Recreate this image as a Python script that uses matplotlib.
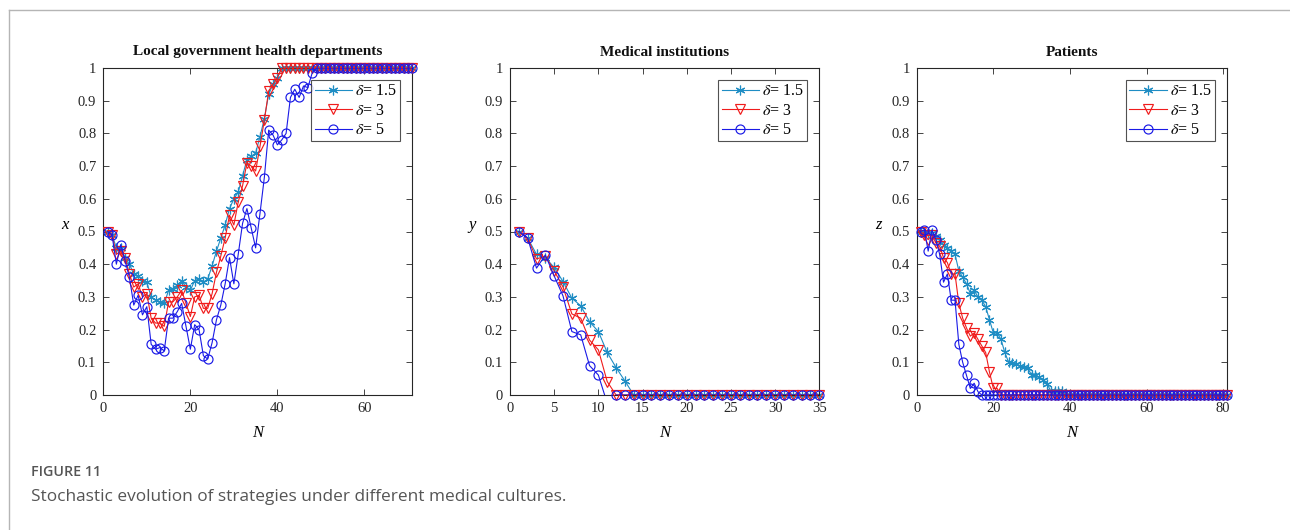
import numpy as np
import matplotlib
matplotlib.use("Agg")
import matplotlib.pyplot as plt
from matplotlib.lines import Line2D

plt.rcParams['font.family'] = ['Liberation Serif', 'DejaVu Serif']
plt.rcParams['mathtext.fontset'] = 'stix'

# ---------------- data ----------------
labels = [r'$\delta$= 1.5', r'$\delta$= 3', r'$\delta$= 5']
titles = ['Local government health departments', 'Medical institutions', 'Patients']
ylabels = ['x', 'y', 'z']
xlims = [71, 35, 81]
xticks_list = [[0, 20, 40, 60], [0, 5, 10, 15, 20, 25, 30, 35], [0, 20, 40, 60, 80]]

# Local government health departments (N = 1..71)
gov_d15 = [0.50, 0.49, 0.45, 0.45, 0.42, 0.40, 0.37, 0.365, 0.35, 0.345,
           0.30, 0.29, 0.285, 0.28, 0.32, 0.325, 0.335, 0.35, 0.33, 0.32,
           0.35, 0.355, 0.345, 0.355, 0.395, 0.44, 0.48, 0.52, 0.57, 0.60,
           0.62, 0.67, 0.72, 0.73, 0.74, 0.79, 0.845, 0.92, 0.95, 0.97] + [1.0] * 31
gov_d3 = [0.50, 0.49, 0.43, 0.44, 0.42, 0.37, 0.33, 0.34, 0.30, 0.31,
          0.235, 0.22, 0.22, 0.21, 0.285, 0.285, 0.30, 0.32, 0.28, 0.24,
          0.30, 0.305, 0.265, 0.265, 0.31, 0.375, 0.425, 0.48, 0.55, 0.52,
          0.59, 0.64, 0.71, 0.70, 0.685, 0.76, 0.84, 0.93, 0.95, 0.97] + [1.0] * 31
gov_d5 = [0.50, 0.49, 0.40, 0.46, 0.41, 0.36, 0.275, 0.305, 0.245, 0.27,
          0.155, 0.14, 0.145, 0.135, 0.235, 0.235, 0.255, 0.28, 0.21, 0.14,
          0.215, 0.20, 0.12, 0.11, 0.16, 0.23, 0.275, 0.34, 0.42, 0.34,
          0.43, 0.525, 0.57, 0.51, 0.45, 0.555, 0.665, 0.81, 0.795, 0.765,
          0.78, 0.80, 0.91, 0.935, 0.91, 0.945, 0.94, 0.985] + [1.0] * 23

# Medical institutions (N = 1..35)
med_d15 = [0.50, 0.48, 0.43, 0.42, 0.39, 0.347, 0.296, 0.273, 0.224, 0.194,
           0.13, 0.084, 0.043] + [0.0] * 22
med_d3 = [0.50, 0.48, 0.416, 0.425, 0.38, 0.33, 0.248, 0.235, 0.168, 0.138,
          0.041] + [0.0] * 24
med_d5 = [0.50, 0.48, 0.388, 0.428, 0.364, 0.303, 0.194, 0.184, 0.09, 0.061,
          -0.025] + [0.0] * 24

# Patients (N = 1..81)
pat_d15 = [0.50, 0.50, 0.495, 0.495, 0.485, 0.474, 0.46, 0.45, 0.44, 0.43,
           0.38, 0.36, 0.34, 0.31, 0.32, 0.30, 0.29, 0.27, 0.23, 0.19,
           0.19, 0.17, 0.13, 0.10, 0.097, 0.094, 0.09, 0.087, 0.082, 0.061,
           0.06, 0.055, 0.046, 0.034, 0.013, 0.013, 0.013, 0.013] + [0.0] * 43
pat_d3 = [0.50, 0.49, 0.475, 0.49, 0.465, 0.455, 0.42, 0.405, 0.37, 0.37,
          0.28, 0.235, 0.205, 0.18, 0.19, 0.17, 0.15, 0.13, 0.07, 0.02,
          0.02] + [0.0] * 60
pat_d5 = [0.50, 0.505, 0.44, 0.505, 0.475, 0.43, 0.345, 0.37, 0.29, 0.29,
          0.155, 0.10, 0.06, 0.02, 0.036, 0.01] + [0.0] * 65

panels = [[gov_d15, gov_d3, gov_d5], [med_d15, med_d3, med_d5], [pat_d15, pat_d3, pat_d5]]

colors = ['#1f8dc4', '#f01c1c', '#1a1ae6']
markers = [(6, 2, 0), 'v', 'o']
msizes = [7, 6.5, 6.5]

# ---------------- figure ----------------
fig = plt.figure(figsize=(12.9, 5.3), dpi=100)

lefts = [103.3 / 1290, 510 / 1290, 916.7 / 1290]
widths = [309 / 1290, 309.3 / 1290, 310.3 / 1290]
bottom = 1 - 395 / 530
height = (395 - 68) / 530

for i, series in enumerate(panels):
    ax = fig.add_axes([lefts[i], bottom, widths[i], height])
    for j, vals in enumerate(series):
        v = np.asarray(vals, dtype=float)
        t = np.arange(1, len(v) + 1)
        ax.plot(t, v, color=colors[j], lw=0.8, clip_on=True, zorder=2 + j)
        vm = np.where(v >= 0, v, np.nan)
        ax.plot(t, vm, ls='none', marker=markers[j], ms=msizes[j],
                mfc='none', mec=colors[j], mew=0.85, clip_on=False, zorder=2 + j)
    ax.set_xlim(0, xlims[i])
    ax.set_ylim(0, 1)
    ax.set_xticks(xticks_list[i])
    ax.set_yticks(np.arange(0, 1.01, 0.1))
    ax.set_yticklabels(['0', '0.1', '0.2', '0.3', '0.4', '0.5', '0.6', '0.7', '0.8', '0.9', '1'])
    ax.tick_params(direction='in', length=4, width=0.6, top=True, right=True,
                   labelsize=10.5, colors='#262626', pad=5)
    for s in ax.spines.values():
        s.set_color('#262626')
        s.set_linewidth(0.8)
    ax.set_title(titles[i], fontsize=11, fontweight='bold', pad=9, color='#111111')
    ax.set_ylabel(ylabels[i], fontsize=12, style='italic', rotation=0, va='center', ha='center')
    ax.yaxis.set_label_coords(-0.124, 0.52)
    ax.set_xlabel('N', fontsize=12, style='italic', va='center')
    ax.xaxis.set_label_coords(0.5, -0.116)

    handles = [Line2D([0], [0], color=colors[j], lw=0.8, marker=markers[j], ms=msizes[j],
                      mfc='none', mec=colors[j], mew=0.85) for j in range(3)]
    leg = ax.legend(handles, labels, loc='upper right', fontsize=11.5, frameon=True,
                    fancybox=False, edgecolor='#262626', handlelength=2.35,
                    borderaxespad=0.75, borderpad=0.2, labelspacing=0.22,
                    handletextpad=0.2)
    leg.get_frame().set_linewidth(0.8)
    leg.set_zorder(10)

# frame lines
fig.add_artist(Line2D([9 / 1290, 1.0], [1 - 10 / 530, 1 - 10 / 530],
                      transform=fig.transFigure, color='#b5b5b5', lw=1.0))
fig.add_artist(Line2D([9 / 1290, 9 / 1290], [0.0, 1 - 10 / 530],
                      transform=fig.transFigure, color='#b5b5b5', lw=1.0))

# caption
fig.text(31 / 1290, 1 - 472 / 530, 'FIGURE 11', family=['Open Sans', 'DejaVu Sans'],
         fontsize=10.3, color='#555555', va='center', ha='left', fontweight='semibold')
fig.text(31 / 1290, 1 - 497 / 530, 'Stochastic evolution of strategies under different medical cultures.',
         family=['Open Sans', 'DejaVu Sans'], fontsize=12.4, color='#555555', va='center', ha='left')

fig.savefig('out.png', dpi=100)
